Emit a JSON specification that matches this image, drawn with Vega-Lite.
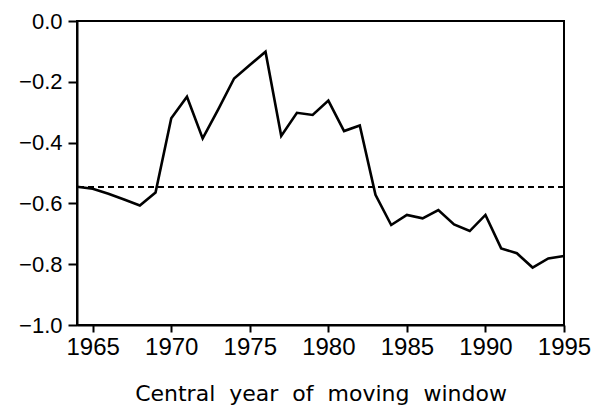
{
  "$schema": "https://vega.github.io/schema/vega-lite/v6.json",
  "autosize": "none",
  "width": 487,
  "height": 304,
  "padding": {"left": 77, "top": 21, "right": 29, "bottom": 81},
  "background": "white",
  "config": {
    "font": "Liberation Sans",
    "view": {"stroke": "black", "strokeWidth": 2},
    "axis": {"grid": false, "domainColor": "black", "domainWidth": 2, "tickColor": "black", "tickWidth": 2, "labelColor": "black"}
  },
  "data": {"values": [
    {"year": 1964, "r": -0.545},
    {"year": 1965, "r": -0.552},
    {"year": 1966, "r": -0.568},
    {"year": 1967, "r": -0.587},
    {"year": 1968, "r": -0.607},
    {"year": 1969, "r": -0.564},
    {"year": 1970, "r": -0.32},
    {"year": 1971, "r": -0.249},
    {"year": 1972, "r": -0.386},
    {"year": 1973, "r": -0.29},
    {"year": 1974, "r": -0.189},
    {"year": 1975, "r": -0.145},
    {"year": 1976, "r": -0.101},
    {"year": 1977, "r": -0.378},
    {"year": 1978, "r": -0.302},
    {"year": 1979, "r": -0.309},
    {"year": 1980, "r": -0.262},
    {"year": 1981, "r": -0.362},
    {"year": 1982, "r": -0.344},
    {"year": 1983, "r": -0.572},
    {"year": 1984, "r": -0.671},
    {"year": 1985, "r": -0.638},
    {"year": 1986, "r": -0.649},
    {"year": 1987, "r": -0.622},
    {"year": 1988, "r": -0.669},
    {"year": 1989, "r": -0.691},
    {"year": 1990, "r": -0.638},
    {"year": 1991, "r": -0.748},
    {"year": 1992, "r": -0.764},
    {"year": 1993, "r": -0.811},
    {"year": 1994, "r": -0.781},
    {"year": 1995, "r": -0.773}
  ]},
  "layer": [
    {
      "mark": {"type": "rule", "strokeDash": [6, 4], "strokeWidth": 1.6, "color": "black"},
      "encoding": {"y": {"datum": -0.545, "type": "quantitative"}}
    },
    {
      "mark": {"type": "line", "color": "black", "strokeWidth": 2.6},
      "encoding": {
        "x": {
          "field": "year", "type": "quantitative",
          "scale": {"domain": [1964, 1995], "nice": false, "zero": false},
          "axis": {"values": [1965, 1970, 1975, 1980, 1985, 1990, 1995], "format": "d", "tickSize": 7, "labelPadding": 3, "labelFont": "Liberation Sans", "labelFontSize": 24, "labelOverlap": false, "labelFlush": false,
            "title": "Central\u00a0 year\u00a0 of\u00a0 moving\u00a0 window", "titleFont": "DejaVu Sans", "titleFontSize": 22, "titleFontWeight": "normal", "titlePadding": 24, "titleColor": "black"}
        },
        "y": {
          "field": "r", "type": "quantitative",
          "scale": {"domain": [-1, 0], "nice": false},
          "axis": {"values": [-1, -0.8, -0.6, -0.4, -0.2, 0], "format": ".1f", "tickSize": 9, "labelPadding": 6, "labelFont": "Liberation Sans", "labelFontSize": 22, "title": null}
        }
      }
    }
  ]
}
